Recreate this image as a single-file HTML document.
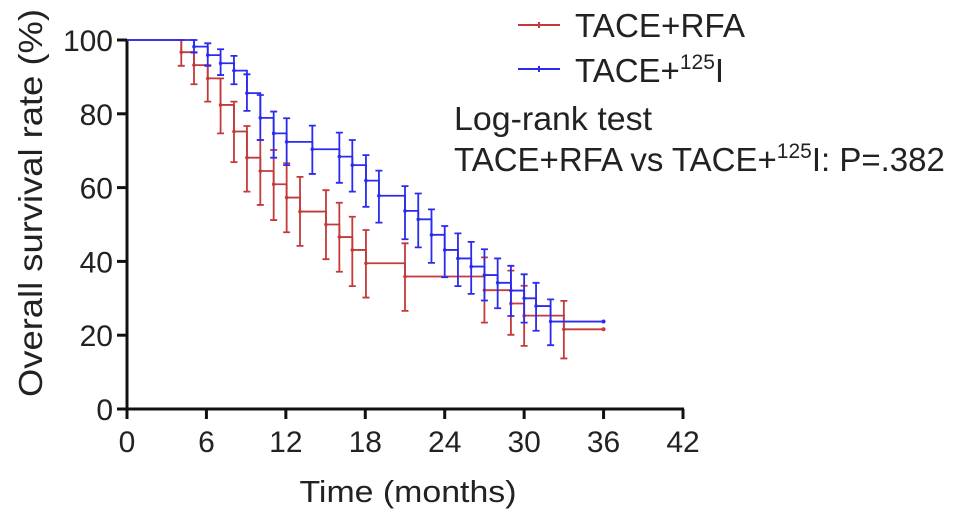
<!DOCTYPE html>
<html><head><meta charset="utf-8"><style>
html,body{margin:0;padding:0;background:#fff;}
svg{display:block;font-family:"Liberation Sans",Arial,sans-serif;}
</style></head><body>
<svg id="chart" width="969" height="523" viewBox="0 0 969 523">
<g id="axes"></g>
<g id="series"></g>
<g>
  <line x1="518" y1="25" x2="560" y2="25" stroke="#c43a3a" stroke-width="2"/>
  <line x1="539" y1="22" x2="539" y2="28" stroke="#c43a3a" stroke-width="2"/>
  <text x="575" y="37" font-size="33" fill="#222" textLength="170" lengthAdjust="spacingAndGlyphs">TACE+RFA</text>
  <line x1="518" y1="69" x2="560" y2="69" stroke="#2b2bef" stroke-width="2"/>
  <line x1="539" y1="66" x2="539" y2="72" stroke="#2b2bef" stroke-width="2"/>
  <text x="575" y="82" font-size="33" fill="#222">TACE+<tspan font-size="21" dy="-13">125</tspan><tspan dy="13">I</tspan></text>
</g>
<text x="454" y="130" font-size="33" fill="#222" textLength="198" lengthAdjust="spacingAndGlyphs">Log-rank test</text>
<text x="454" y="171" font-size="33" fill="#222">TACE+RFA vs TACE+<tspan font-size="21" dy="-13">125</tspan><tspan dy="13">I: P=.382</tspan></text>
<text x="408" y="502" font-size="31" fill="#222" text-anchor="middle" textLength="217" lengthAdjust="spacingAndGlyphs">Time (months)</text>
<text transform="translate(42,203) rotate(-90)" font-size="33" fill="#222" text-anchor="middle" textLength="388" lengthAdjust="spacingAndGlyphs">Overall survival rate (%)</text>
</svg>
<script>
const xTicks = [0, 6, 12, 18, 24, 30, 36, 42];
const yTicks = [0, 20, 40, 60, 80, 100];
const rfaTimes = [4.1, 5.06, 6.1, 7.07, 8.08, 9.06, 10.07, 11.08, 12.06, 13.07, 15.03, 16.04, 17.02, 18.05, 21, 27, 29, 30, 33];
const rfaSurv  = [96.7, 93.2, 89.6, 82.4, 75.2, 68.1, 64.5, 60.9, 57.3, 53.5, 50.0, 46.6, 43.1, 39.5, 35.9, 32.2, 28.6, 25.3, 21.6];
const rfaHi    = [100, 96.7, 93.2, 89.6, 83.3, 76.7, 72.9, 70.2, 66.6, 62.9, 59.3, 55.9, 52.1, 48.5, 44.9, 41.1, 37.5, 33.4, 29.3];
const rfaLo    = [93, 88.0, 83.3, 74.7, 66.9, 58.9, 55.3, 51.2, 47.9, 44.2, 40.6, 37.2, 33.3, 30.2, 26.6, 23.4, 20.1, 17.1, 13.7];
const rfaEnd = 36;
const iTimes = [5.06, 6.1, 7.07, 8.08, 9.06, 10.07, 11.08, 12.06, 14.0, 16.04, 17.02, 18.05, 19.03, 21, 22, 23, 24, 25, 26, 27, 28, 29, 30, 30.9, 32];
const iSurv  = [98.2, 95.9, 93.7, 91.7, 85.6, 78.9, 74.7, 72.4, 70.4, 68.4, 66.1, 61.9, 57.8, 53.7, 51.4, 47.2, 43.1, 40.8, 38.6, 36.3, 34.2, 32.1, 30.0, 27.9, 23.7];
const iHi    = [100, 99.1, 97.5, 95.7, 90.7, 85.1, 80.6, 78.8, 76.8, 74.9, 72.9, 68.8, 64.6, 60.4, 58.4, 54.1, 49.6, 47.6, 45.3, 43.3, 40.8, 38.8, 36.5, 34.2, 29.7];
const iLo    = [96.6, 93.0, 90.5, 88.0, 80.8, 72.9, 68.1, 66.1, 63.7, 61.3, 58.9, 54.8, 50.5, 46.0, 43.8, 39.6, 35.7, 33.3, 31.2, 29.4, 27.3, 25.2, 23.4, 21.2, 17.3];
const iEnd = 36;

const X0 = 127, X1 = 683, Y0 = 409, Y1 = 40;
const xs = t => X0 + (t / 42) * (X1 - X0);
const ys = v => Y0 - (v / 100) * (Y0 - Y1);
const NS = 'http://www.w3.org/2000/svg';
function mk(tag, attrs, parent) {
  const e = document.createElementNS(NS, tag);
  for (const k in attrs) e.setAttribute(k, attrs[k]);
  parent.appendChild(e);
  return e;
}
const axes = document.getElementById('axes');
const series = document.getElementById('series');

let el = mk('line', {x1: X0, y1: Y0, x2: X1 + 1, y2: Y0, stroke: '#111', 'stroke-width': 3}, axes);


el = mk('line', {x1: X0, y1: Y0 + 1.5, x2: X0, y2: Y1 - 1, stroke: '#111', 'stroke-width': 3}, axes);



xTicks.forEach(t => {
  const x = xs(t);
  let tk = mk('line', {x1: x, y1: Y0, x2: x, y2: Y0 + 10, stroke: '#111', 'stroke-width': 3}, axes);
  
  
  let lb = mk('text', {x: x, y: 452, 'font-size': 30, 'text-anchor': 'middle', fill: '#222'}, axes);
  lb.textContent = t;
  
  
});
yTicks.forEach(v => {
  const y = ys(v);
  let tk = mk('line', {x1: X0 - 10, y1: y, x2: X0, y2: y, stroke: '#111', 'stroke-width': 3}, axes);
  
  
  let lb = mk('text', {x: X0 - 14, y: y + 11, 'font-size': 30, 'text-anchor': 'end', fill: '#222'}, axes);
  lb.textContent = v;
  
  
});

function drawSeries(times, surv, hi, lo, end, color, name) {
  const g = mk('g', {}, series);
  
  
  let d = 'M' + xs(0) + ',' + ys(100);
  times.forEach((t, i) => {
    d += ' H' + xs(t) + ' V' + ys(surv[i]);
  });
  d += ' H' + xs(end);
  const p = mk('path', {d: d, fill: 'none', stroke: color, 'stroke-width': 1.8}, g);
  
  
  times.forEach((t, i) => {
    const x = xs(t);
    const b = mk('path', {d: 'M' + x + ',' + ys(hi[i]) + ' V' + ys(lo[i]) + ' M' + (x - 3.5) + ',' + ys(hi[i]) + ' h7 M' + (x - 3.5) + ',' + ys(lo[i]) + ' h7', fill: 'none', stroke: color, 'stroke-width': 1.8}, g);
    
    
    const c = mk('circle', {cx: x, cy: ys(surv[i]), r: 1.8, fill: color}, g);
    
    
  });
  const e = mk('circle', {cx: xs(end), cy: ys(surv[surv.length - 1]), r: 2, fill: color}, g);
  
  
}
drawSeries(rfaTimes, rfaSurv, rfaHi, rfaLo, rfaEnd, '#c43a3a', 'tace-rfa-series');
drawSeries(iTimes, iSurv, iHi, iLo, iEnd, '#2b2bef', 'tace-125i-series');
</script>
</body></html>
